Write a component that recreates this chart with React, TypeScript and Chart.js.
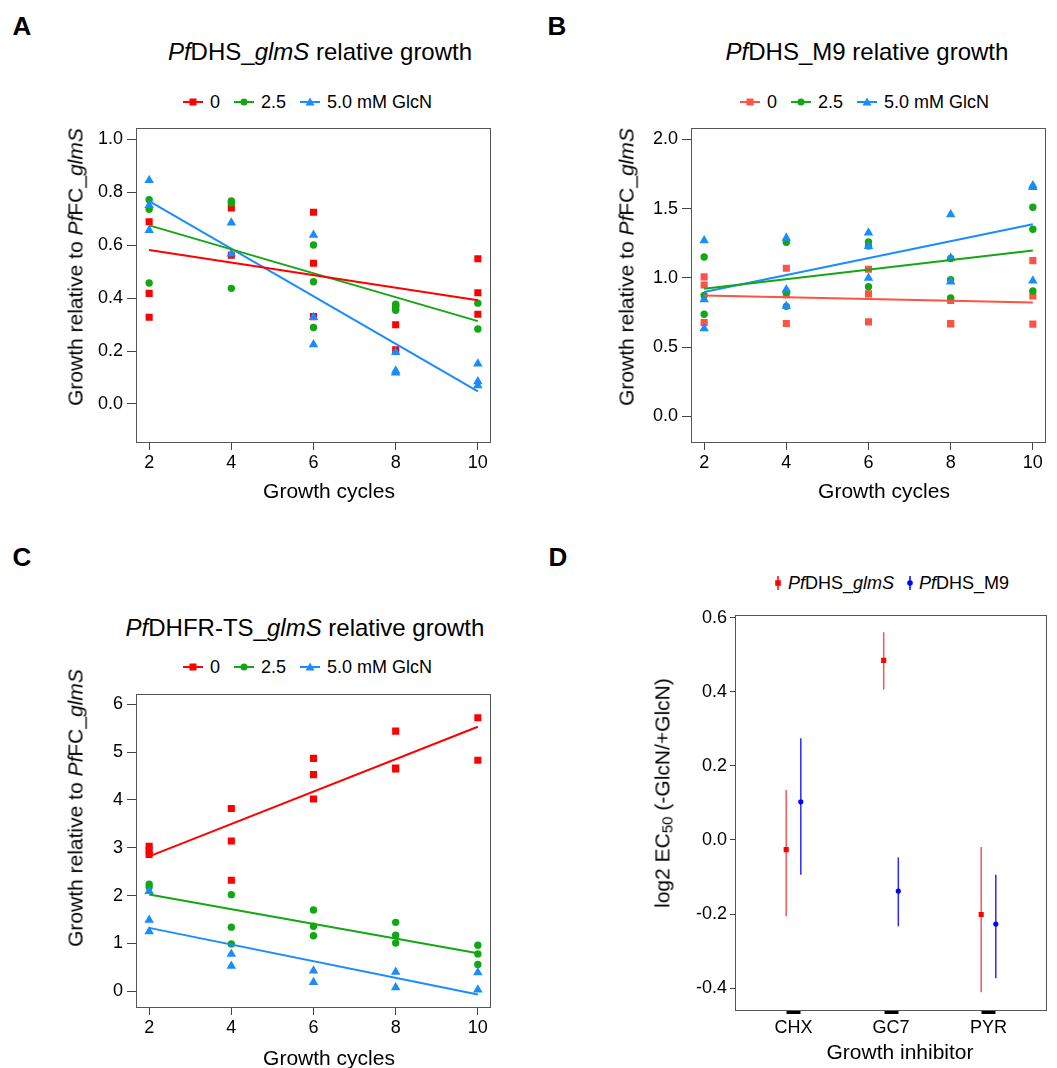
import React, { useEffect, useRef } from "react";
import { Chart, registerables } from "chart.js";

Chart.register(...registerables);

const FONT = '"Liberation Sans", Arial, Helvetica, sans-serif';

// ---------- shared ----------
const cycles = [2, 4, 6, 8, 10];
const cycleTicks = [2, 4, 6, 8, 10];
const legendLabels = ["0", "2.5", "5.0 mM GlcN"];

// ---------- Panel A: PfDHS_glmS ----------
const aZero = [[0.689, 0.418, 0.328], [0.741, 0.562], [0.725, 0.532, 0.33], [0.367, 0.299, 0.205], [0.549, 0.42, 0.339]];
const aTwoFive = [[0.772, 0.736, 0.457], [0.767, 0.76, 0.437], [0.601, 0.462, 0.289], [0.377, 0.369, 0.354], [0.381, 0.283]];
const aFive = [[0.846, 0.751, 0.657], [0.685, 0.568], [0.639, 0.328, 0.225], [0.195, 0.125, 0.118], [0.152, 0.085, 0.07]];
const aFitZero = [0.582, 0.392];
const aFitTwoFive = [0.675, 0.313];
const aFitFive = [0.767, 0.047];
const aYTicks = [0, 0.2, 0.4, 0.6, 0.8, 1.0];

// ---------- Panel B: PfDHS_M9 ----------
const bZero = [[1.008, 0.949, 0.679], [1.07, 0.88, 0.671], [1.063, 0.885, 0.683], [0.837, 0.671, 0.668], [1.125, 0.871, 0.667]];
const bTwoFive = [[1.151, 0.873, 0.738], [1.257, 0.897, 0.795], [1.26, 1.23, 0.937], [1.141, 0.987, 0.856], [1.511, 1.352, 0.906]];
const bFive = [[1.27, 0.845, 0.636], [1.288, 0.916, 0.797], [1.326, 1.229, 0.999], [1.459, 1.144, 0.973], [1.668, 1.655, 0.98]];
const bFitZero = [0.873, 0.823];
const bFitTwoFive = [0.923, 1.198];
const bFitFive = [0.899, 1.388];
const bYTicks = [0, 0.5, 1.0, 1.5, 2.0];

// ---------- Panel C: PfDHFR-TS_glmS ----------
const cZero = [[3.03, 2.945, 2.86], [3.82, 3.14, 2.32], [4.87, 4.53, 4.02], [5.44, 4.67, 4.65], [5.72, 4.83]];
const cTwoFive = [[2.24, 2.18], [2.02, 1.34, 0.99], [1.7, 1.36, 1.16], [1.44, 1.17, 1.01], [0.96, 0.78, 0.56]];
const cFive = [[2.09, 1.49, 1.25], [0.78, 0.53], [0.43, 0.19], [0.4, 0.08], [0.39, 0.03]];
const cFitZero = [2.82, 5.53];
const cFitTwoFive = [2.025, 0.796];
const cFitFive = [1.325, -0.069];
const cYTicks = [0, 1, 2, 3, 4, 5, 6];

// ---------- Panel D: log2 EC50 ----------
const inhibitors = ["CHX", "GC7", "PYR"];
const glmsMean = [-0.026, 0.485, -0.201];
const glmsLow = [-0.206, 0.406, -0.411];
const glmsHigh = [0.135, 0.561, -0.019];
const m9Mean = [0.103, -0.138, -0.227];
const m9Low = [-0.094, -0.233, -0.373];
const m9High = [0.275, -0.047, -0.094];
const dYTicks = [-0.4, -0.2, 0.0, 0.2, 0.4, 0.6];
const dodge = 0.075;

const boxPlugin = {
  id: "box",
  afterDraw(chart: any) {
    const { ctx, chartArea: a } = chart;
    ctx.save();
    ctx.strokeStyle = "#555";
    ctx.lineWidth = 1;
    ctx.strokeRect(Math.round(a.left) + 0.5, Math.round(a.top) + 0.5, Math.round(a.right - a.left) - 1, Math.round(a.bottom - a.top));
    ctx.restore();
  },
};

const tickFont = { family: FONT, size: 18 };

function growthConfig(
  series: { values: number[][]; fit: number[]; color: string; style: string; radius: number }[],
  yMin: number,
  yMax: number,
  yTicks: number[],
  decimals: number
): any {
  const datasets: any[] = [];
  series.forEach((s) => {
    datasets.push({
      data: [
        { x: cycles[0], y: s.fit[0] },
        { x: cycles[cycles.length - 1], y: s.fit[1] },
      ],
      showLine: true,
      borderColor: s.color,
      borderWidth: 2,
      pointRadius: 0,
      order: 0,
    });
  });
  series.forEach((s, k) => {
    const pts: any[] = [];
    s.values.forEach((vals, i) => vals.forEach((v) => pts.push({ x: cycles[i], y: v })));
    datasets.push({
      data: pts,
      pointStyle: s.style,
      pointRadius: s.radius,
      backgroundColor: s.color,
      borderColor: s.color,
      pointBorderWidth: 0,
      borderWidth: 0,
      order: 3 - k,
    });
  });
  return {
    type: "scatter",
    data: { datasets },
    plugins: [boxPlugin],
    options: {
      responsive: false,
      animation: false,
      layout: { padding: { top: 10, right: 10, left: 0, bottom: 0 } },
      plugins: { legend: { display: false }, tooltip: { enabled: false } },
      scales: {
        x: {
          type: "linear",
          min: 1.68,
          max: 10.32,
          afterBuildTicks: (s: any) => {
            s.ticks = cycleTicks.map((v) => ({ value: v }));
          },
          afterFit: (s: any) => {
            s.height = 40;
          },
          ticks: { font: tickFont, color: "#000", padding: 2, maxRotation: 0, autoSkip: false, callback: (v: any) => String(v) },
          grid: { drawOnChartArea: false, tickLength: 8, tickColor: "#444", tickWidth: 1 },
          border: { display: false },
        },
        y: {
          type: "linear",
          min: yMin,
          max: yMax,
          afterBuildTicks: (s: any) => {
            s.ticks = yTicks.map((v) => ({ value: v }));
          },
          afterFit: (s: any) => {
            s.width = 80;
          },
          ticks: { font: tickFont, color: "#000", padding: 4, autoSkip: false, callback: (v: any) => Number(v).toFixed(decimals) },
          grid: { drawOnChartArea: false, tickLength: 9, tickColor: "#444", tickWidth: 1 },
          border: { display: false },
        },
      },
    },
  };
}

const errorBarPlugin = {
  id: "errorBars",
  beforeDatasetsDraw(chart: any) {
    const { ctx, scales } = chart;
    const draw = (means: number[], lows: number[], highs: number[], off: number, color: string) => {
      means.forEach((_, i) => {
        const x = scales.x.getPixelForValue(i + 1 + off);
        ctx.save();
        ctx.strokeStyle = color;
        ctx.lineWidth = 1.5;
        ctx.beginPath();
        ctx.moveTo(x, scales.y.getPixelForValue(lows[i]));
        ctx.lineTo(x, scales.y.getPixelForValue(highs[i]));
        ctx.stroke();
        ctx.restore();
      });
    };
    draw(glmsMean, glmsLow, glmsHigh, -dodge, "#f25a5a");
    draw(m9Mean, m9Low, m9High, dodge, "#2a2aff");
  },
};

function ec50Config(): any {
  return {
    type: "scatter",
    data: {
      datasets: [
        {
          data: glmsMean.map((v, i) => ({ x: i + 1 - dodge, y: v })),
          pointStyle: "rect",
          pointRadius: 3.6,
          backgroundColor: "#ff0000",
          pointBorderWidth: 0,
        },
        {
          data: m9Mean.map((v, i) => ({ x: i + 1 + dodge, y: v })),
          pointStyle: "circle",
          pointRadius: 2.6,
          backgroundColor: "#0000ff",
          pointBorderWidth: 0,
        },
      ],
    },
    plugins: [errorBarPlugin, boxPlugin],
    options: {
      responsive: false,
      animation: false,
      layout: { padding: { top: 10, right: 10, left: 0, bottom: 0 } },
      plugins: { legend: { display: false }, tooltip: { enabled: false } },
      scales: {
        x: {
          type: "linear",
          min: 0.4,
          max: 3.6,
          afterBuildTicks: (s: any) => {
            s.ticks = inhibitors.map((_, i) => ({ value: i + 1 }));
          },
          afterFit: (s: any) => {
            s.height = 40;
          },
          ticks: {
            font: tickFont,
            color: "#000",
            padding: 3,
            maxRotation: 0,
            autoSkip: false,
            callback: (v: any) => inhibitors[Math.round(Number(v)) - 1],
          },
          grid: { drawOnChartArea: false, tickLength: 4, tickColor: "#000", tickWidth: 14 },
          border: { display: false },
        },
        y: {
          type: "linear",
          min: -0.459,
          max: 0.608,
          afterBuildTicks: (s: any) => {
            s.ticks = dYTicks.map((v) => ({ value: v }));
          },
          afterFit: (s: any) => {
            s.width = 80;
          },
          ticks: { font: tickFont, color: "#000", padding: 3, autoSkip: false, callback: (v: any) => Number(v).toFixed(1) },
          grid: { drawOnChartArea: false, tickLength: 5, tickColor: "#444", tickWidth: 1 },
          border: { display: false },
        },
      },
    },
  };
}

function ChartCanvas({ left, top, width, height, make }: { left: number; top: number; width: number; height: number; make: () => any }) {
  const ref = useRef<HTMLCanvasElement | null>(null);
  useEffect(() => {
    const chart = new Chart(ref.current as HTMLCanvasElement, make());
    return () => chart.destroy();
  }, []);
  return <canvas ref={ref} width={width} height={height} style={{ position: "absolute", left, top, width, height }} />;
}

function Txt({ x, y, size, children, rotate, bold }: { x: number; y: number; size: number; children: any; rotate?: boolean; bold?: boolean }) {
  return (
    <div
      style={{
        position: "absolute",
        left: x,
        top: y,
        transform: `translate(-50%, -50%)${rotate ? " rotate(-90deg)" : ""}`,
        fontSize: size,
        lineHeight: 1,
        fontFamily: FONT,
        fontWeight: bold ? "bold" : "normal",
        whiteSpace: "nowrap",
        color: "#000",
      }}
    >
      {children}
    </div>
  );
}

function Marker({ style, color }: { style: string; color: string }) {
  return (
    <svg width={20} height={12} style={{ display: "block" }}>
      <line x1={0} y1={6} x2={20} y2={6} stroke={color} strokeWidth={2} />
      {style === "rect" && <rect x={6.5} y={2.5} width={7} height={7} fill={color} />}
      {style === "circle" && <circle cx={10} cy={6} r={3.6} fill={color} />}
      {style === "triangle" && <polygon points="10,1.5 14.5,9.5 5.5,9.5" fill={color} />}
    </svg>
  );
}

function GrowthLegend({ left, cy, colors }: { left: number; cy: number; colors: string[] }) {
  const styles = ["rect", "circle", "triangle"];
  return (
    <div
      style={{
        position: "absolute",
        left,
        top: cy,
        transform: "translateY(-50%)",
        display: "flex",
        alignItems: "center",
        fontFamily: FONT,
        fontSize: 18,
        lineHeight: 1,
        whiteSpace: "nowrap",
      }}
    >
      {legendLabels.map((lab, i) => (
        <div key={lab} style={{ display: "flex", alignItems: "center", marginRight: i < 2 ? 14 : 0 }}>
          <Marker style={styles[i]} color={colors[i]} />
          <span style={{ marginLeft: 7 }}>{lab}</span>
        </div>
      ))}
    </div>
  );
}

function EcMarker({ color, square }: { color: string; square: boolean }) {
  return (
    <svg width={10} height={16} style={{ display: "block" }}>
      <line x1={5} y1={1} x2={5} y2={15} stroke={color} strokeWidth={1.5} />
      {square ? <rect x={2.2} y={5.2} width={5.6} height={5.6} fill={color} /> : <circle cx={5} cy={8} r={2.8} fill={color} />}
    </svg>
  );
}

const RED = "#ff0000";
const GREEN = "#13a813";
const BLUE = "#1a8cff";
const RED_B = "#fb5444";

export default function App() {
  return (
    <div style={{ position: "absolute", left: 0, top: 0, width: 1057, height: 1068, background: "#fff", overflow: "hidden" }}>
      {/* Panel letters */}
      <Txt x={22} y={26} size={26} bold>A</Txt>
      <Txt x={557} y={26} size={26} bold>B</Txt>
      <Txt x={22} y={557} size={26} bold>C</Txt>
      <Txt x={558} y={557} size={26} bold>D</Txt>

      {/* Panel A */}
      <Txt x={320} y={52} size={24}>
        <i>Pf</i>DHS_<i>glmS</i> relative growth
      </Txt>
      <GrowthLegend left={183} cy={102} colors={[RED, GREEN, BLUE]} />
      <ChartCanvas
        left={56}
        top={113}
        width={445}
        height={369}
        make={() =>
          growthConfig(
            [
              { values: aZero, fit: aFitZero, color: RED, style: "rect", radius: 5 },
              { values: aTwoFive, fit: aFitTwoFive, color: GREEN, style: "circle", radius: 3.7 },
              { values: aFive, fit: aFitFive, color: BLUE, style: "triangle", radius: 5.5 },
            ],
            -0.144,
            1.044,
            aYTicks,
            1
          )
        }
      />
      <Txt x={75} y={267} size={21} rotate>
        Growth relative to <i>Pf</i>FC_<i>glmS</i>
      </Txt>
      <Txt x={329} y={490} size={21}>Growth cycles</Txt>

      {/* Panel B */}
      <Txt x={867} y={52} size={24}>
        <i>Pf</i>DHS_M9 relative growth
      </Txt>
      <GrowthLegend left={740} cy={102} colors={[RED_B, GREEN, BLUE]} />
      <ChartCanvas
        left={611}
        top={113}
        width={445}
        height={369}
        make={() =>
          growthConfig(
            [
              { values: bZero, fit: bFitZero, color: RED_B, style: "rect", radius: 5 },
              { values: bTwoFive, fit: bFitTwoFive, color: GREEN, style: "circle", radius: 3.7 },
              { values: bFive, fit: bFitFive, color: BLUE, style: "triangle", radius: 5.5 },
            ],
            -0.184,
            2.084,
            bYTicks,
            1
          )
        }
      />
      <Txt x={626} y={267} size={21} rotate>
        Growth relative to <i>Pf</i>FC_<i>glmS</i>
      </Txt>
      <Txt x={884} y={490} size={21}>Growth cycles</Txt>

      {/* Panel C */}
      <Txt x={305} y={628} size={24}>
        <i>Pf</i>DHFR-TS_<i>glmS</i> relative growth
      </Txt>
      <GrowthLegend left={183} cy={667} colors={[RED, GREEN, BLUE]} />
      <ChartCanvas
        left={56}
        top={679}
        width={445}
        height={368}
        make={() =>
          growthConfig(
            [
              { values: cZero, fit: cFitZero, color: RED, style: "rect", radius: 5 },
              { values: cTwoFive, fit: cFitTwoFive, color: GREEN, style: "circle", radius: 3.7 },
              { values: cFive, fit: cFitFive, color: BLUE, style: "triangle", radius: 5.5 },
            ],
            -0.33,
            6.22,
            cYTicks,
            0
          )
        }
      />
      <Txt x={75} y={808} size={21} rotate>
        Growth relative to <i>Pf</i>FC_<i>glmS</i>
      </Txt>
      <Txt x={329} y={1057} size={21}>Growth cycles</Txt>

      {/* Panel D */}
      <div
        style={{
          position: "absolute",
          left: 773,
          top: 583,
          transform: "translateY(-50%)",
          display: "flex",
          alignItems: "center",
          fontFamily: FONT,
          fontSize: 18,
          lineHeight: 1,
          whiteSpace: "nowrap",
        }}
      >
        <EcMarker color={RED} square />
        <span style={{ marginLeft: 5, marginRight: 11 }}>
          <i>Pf</i>DHS_<i>glmS</i>
        </span>
        <EcMarker color={"#0000ff"} square={false} />
        <span style={{ marginLeft: 4 }}>
          <i>Pf</i>DHS_M9
        </span>
      </div>
      <ChartCanvas left={655} top={601} width={402} height={449} make={ec50Config} />
      <Txt x={663} y={793} size={21} rotate>
        log2 EC<span style={{ fontSize: "0.72em", verticalAlign: "-0.2em" }}>50</span> (-GlcN/+GlcN)
      </Txt>
      <Txt x={900} y={1051} size={21}>Growth inhibitor</Txt>
    </div>
  );
}
